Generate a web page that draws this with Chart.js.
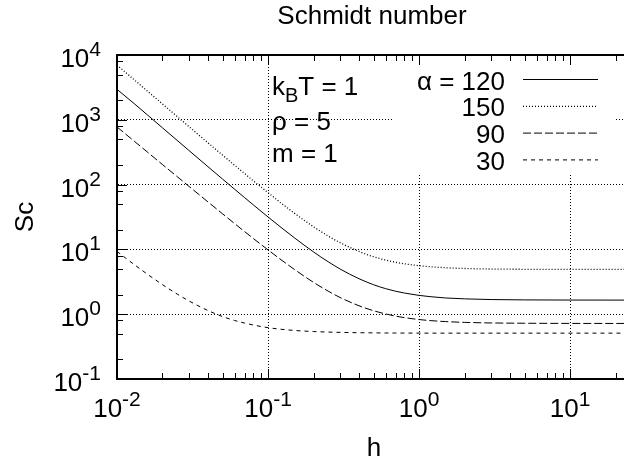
<!DOCTYPE html>
<html>
<head>
<meta charset="utf-8">
<script src="https://cdn.jsdelivr.net/npm/chart.js@4.4.1/dist/chart.umd.min.js"></script>
<style>
  html, body { margin: 0; padding: 0; background: #fff; overflow: hidden; }
  #wrap { width: 630px; height: 462px; }
</style>
</head>
<body>
<div id="wrap"><canvas id="grafico" width="630" height="462"></canvas></div>
<script>
// h values sampled along the curves
const hValores = [0.01, 0.013, 0.016, 0.02, 0.025, 0.03, 0.04, 0.05, 0.06, 0.07, 0.08, 0.1, 0.12, 0.15, 0.2,
                  0.25, 0.3, 0.4, 0.5, 0.6, 0.7, 0.8, 1, 1.2, 1.5, 2, 3, 5, 10, 25];

// Schmidt number for each alpha
const sc120 = [2950, 1777, 1174, 752, 482, 335, 189, 121.6, 85, 62.9, 48.5, 31.65, 22.5, 15.0, 9.15,
               6.45, 4.98, 3.53, 2.85, 2.48, 2.26, 2.12, 1.95, 1.86, 1.78, 1.725, 1.683, 1.662, 1.653, 1.65];
const sc150 = [7000, 4147, 2739, 1755, 1125, 783, 442, 285, 199, 148, 114, 75, 53.5, 36, 22.4,
               16.1, 12.7, 9.3, 7.7, 6.84, 6.33, 6.0, 5.6, 5.39, 5.21, 5.075, 4.98, 4.93, 4.907, 4.9];
const sc90  = [776, 468, 313.7, 204, 133, 93.7, 54.1, 35.4, 25.1, 18.8, 14.7, 9.83, 7.12, 4.88, 3.10,
               2.27, 1.81, 1.35, 1.13, 1.01, 0.933, 0.885, 0.827, 0.795, 0.769, 0.748, 0.733, 0.725, 0.721, 0.72];
const sc30  = [9.3, 5.83, 4.10, 2.86, 2.05, 1.60, 1.14, 0.92, 0.80, 0.73, 0.68, 0.62, 0.588, 0.561, 0.540,
               0.530, 0.524, 0.518, 0.515, 0.513, 0.512, 0.5115, 0.511, 0.51, 0.51, 0.51, 0.51, 0.51, 0.51, 0.51];

const rotulosAlpha = ['120', '150', '90', '30'];
const estilosTraco = [[], [1, 2], [8, 3], [4, 4]];
const espessuras = [1, 1.3, 1, 1];
const seriesSc = [sc120, sc150, sc90, sc30];

// decades for grid lines and tick labels
const xDecadas = [0.01, 0.1, 1, 10];
const yDecadas = [0.1, 1, 10, 100, 1000, 10000];
const yMenores = [2, 5, 8];

const FONTE = '"Liberation Sans", Arial, Helvetica, sans-serif';
const TAM = 26;
const TAM_SUP = 21;

function desenharPotencia(ctx, expoente, x, y, alinhamento) {
    ctx.font = TAM + 'px ' + FONTE;
    const wBase = ctx.measureText('10').width;
    ctx.font = TAM_SUP + 'px ' + FONTE;
    const wExp = ctx.measureText(expoente).width;
    const total = wBase + wExp;
    let x0 = x;
    if (alinhamento === 'center') x0 = x - total / 2;
    else if (alinhamento === 'right') x0 = x - total;
    ctx.textAlign = 'left';
    ctx.textBaseline = 'alphabetic';
    ctx.font = TAM + 'px ' + FONTE;
    ctx.fillText('10', x0, y);
    ctx.font = TAM_SUP + 'px ' + FONTE;
    ctx.fillText(expoente, x0 + wBase, y - 11);
}

const pluginMoldura = {
    id: 'moldura',
    beforeDatasetsDraw(chart) {
        // the key area hides the grid behind it
        const ctx = chart.ctx;
        ctx.save();
        ctx.fillStyle = '#fff';
        ctx.fillRect(393, 58, 222, 117);
        ctx.restore();
    },
    afterDraw(chart) {
        const ctx = chart.ctx;
        const a = chart.chartArea;
        const sx = chart.scales.x;
        const sy = chart.scales.y;
        ctx.save();
        ctx.strokeStyle = '#000';
        ctx.fillStyle = '#000';

        // top border
        ctx.lineWidth = 2;
        ctx.beginPath();
        ctx.moveTo(a.left, a.top);
        ctx.lineTo(a.right + 5, a.top);
        ctx.stroke();

        // x ticks (bottom and top, pointing inwards)
        ctx.lineWidth = 1;
        ctx.beginPath();
        xDecadas.forEach(d => {
            for (let k = 1; k <= 9; k++) {
                const v = k * d;
                if (v > sx.max) break;
                const px = Math.round(sx.getPixelForValue(v)) + 0.5;
                const len = k === 1 ? 10 : 6;
                ctx.moveTo(px, a.bottom);
                ctx.lineTo(px, a.bottom - len);
                ctx.moveTo(px, a.top);
                ctx.lineTo(px, a.top + len);
            }
        });
        // y ticks
        yDecadas.forEach(d => {
            [1].concat(yMenores).forEach(k => {
                const v = k * d;
                if (v > sy.max) return;
                const py = Math.round(sy.getPixelForValue(v)) + 0.5;
                const len = k === 1 ? 10 : 6;
                ctx.moveTo(a.left, py);
                ctx.lineTo(a.left + len, py);
            });
        });
        ctx.stroke();

        // tick labels
        xDecadas.forEach(d => {
            const px = sx.getPixelForValue(d);
            desenharPotencia(ctx, String(Math.round(Math.log10(d))), px, a.bottom + 38, 'center');
        });
        yDecadas.forEach(d => {
            const py = sy.getPixelForValue(d);
            desenharPotencia(ctx, String(Math.round(Math.log10(d))), 101, py + 12, 'right');
        });

        // title and axis names
        ctx.font = TAM + 'px ' + FONTE;
        ctx.textAlign = 'center';
        ctx.textBaseline = 'alphabetic';
        ctx.fillText('Schmidt number', (a.left + a.right) / 2, 24);
        ctx.fillText('h', (a.left + a.right) / 2 + 2, 456);
        ctx.save();
        ctx.translate(33, (a.top + a.bottom) / 2);
        ctx.rotate(-Math.PI / 2);
        ctx.fillText('Sc', 0, 0);
        ctx.restore();

        // parameter labels
        ctx.textAlign = 'left';
        ctx.font = TAM + 'px ' + FONTE;
        ctx.fillText('k', 272, 95);
        const wk = ctx.measureText('k').width;
        ctx.font = '20px ' + FONTE;
        ctx.fillText('B', 272 + wk, 102);
        const wb = ctx.measureText('B').width;
        ctx.font = TAM + 'px ' + FONTE;
        ctx.fillText('T = 1', 272 + wk + wb, 95);
        ctx.fillText('\u03C1 = 5', 272, 130);
        ctx.fillText('m = 1', 272, 162);

        // key
        chart.data.datasets.forEach((ds, i) => {
            const base = 89.5 + i * 26.8;
            ctx.font = TAM + 'px ' + FONTE;
            ctx.textAlign = 'right';
            ctx.fillText(ds.label, 505, base);
            ctx.lineWidth = ds.borderWidth;
            ctx.setLineDash(ds.borderDash);
            ctx.beginPath();
            ctx.moveTo(523, base - 10);
            ctx.lineTo(598, base - 10);
            ctx.stroke();
            ctx.setLineDash([]);
        });
        ctx.restore();
    }
};

const datasets = seriesSc.map((serie, i) => ({
    label: (i === 0 ? '\u03B1 = ' : '') + rotulosAlpha[i],
    data: hValores.map((h, j) => ({ x: h, y: serie[j] })),
    borderColor: '#000',
    borderWidth: espessuras[i],
    borderDash: estilosTraco[i],
    pointRadius: 0,
    fill: false,
    cubicInterpolationMode: 'monotone'
}));

const ctx = document.getElementById('grafico').getContext('2d');
new Chart(ctx, {
    type: 'line',
    data: { datasets: datasets },
    options: {
        responsive: false,
        animation: false,
        devicePixelRatio: 1,
        layout: { padding: { left: 117, right: 3, top: 55, bottom: 83 } },
        plugins: {
            legend: { display: false },
            title: { display: false },
            tooltip: { enabled: false }
        },
        scales: {
            x: {
                type: 'logarithmic',
                min: 0.01,
                max: 23.8,
                ticks: { display: false },
                grid: { color: '#000', lineWidth: 1, drawTicks: false },
                border: { display: true, width: 2, color: '#000', dash: [1, 2] },
                afterBuildTicks: s => { s.ticks = xDecadas.map(v => ({ value: v })); }
            },
            y: {
                type: 'logarithmic',
                min: 0.1,
                max: 10000,
                ticks: { display: false },
                grid: { color: '#000', lineWidth: 1, drawTicks: false },
                border: { display: true, width: 2, color: '#000', dash: [1, 2] },
                afterBuildTicks: s => { s.ticks = yDecadas.map(v => ({ value: v })); }
            }
        }
    },
    plugins: [pluginMoldura]
});
</script>
</body>
</html>
